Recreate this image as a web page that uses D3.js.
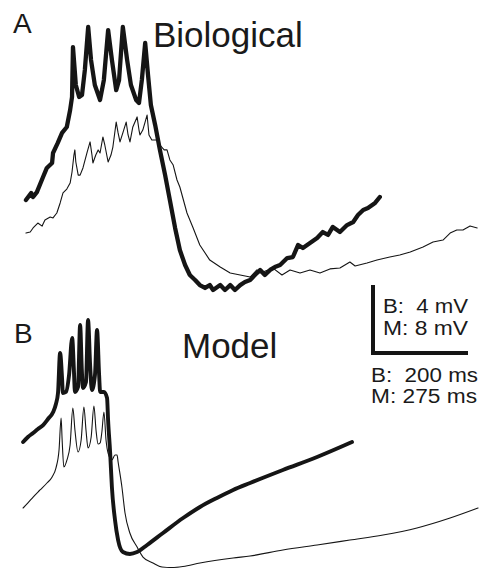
<!DOCTYPE html>
<html>
<head>
<meta charset="utf-8">
<script src="https://cdn.jsdelivr.net/npm/d3@7"></script>
<style>
  html, body { margin: 0; padding: 0; background: #fff; }
  svg { display: block; }
  text { font-family: "Liberation Sans", Arial, Helvetica, sans-serif; fill: #1a1a1a; white-space: pre; }
</style>
</head>
<body>
<svg id="chart" width="489" height="568"></svg>
<script>
// ---- Biological recordings (ms, mV relative to trough) ----
const bioBoldT = [2,13,17,25,38,46,57,59,69,78,88,95,99,101,107,114,120,126,133,139,147,158,166,175,183,192,198,206,215,223,234,240,246,253,259,265,274,284,295,305,316,326,337,347,358,368,379,389,396,411,421,432,442,453,463,474,484,495,505,516,526,537,552,564,575,585,600,615,627,638,648,663,678,691,701,712,722,737,747];
const bioBoldV = [5.29,5.71,5.47,5.76,6.65,7.18,7.47,8.06,8.65,9.24,9.59,10.59,11.35,14.29,12.06,11.35,11.47,12.94,15.47,13.53,12.06,11.18,12.35,15.29,13.53,11.76,12.35,15.47,13.53,12.06,11.18,11.0,12.35,14.53,12.65,10.88,9.71,8.24,6.76,5.29,3.65,2.35,1.47,0.88,0.59,0.29,0.12,0.29,0,0.29,0,0.29,0,0.29,0.47,0.59,0.88,1.18,0.88,1.18,1.35,1.47,1.88,1.94,2.65,2.47,2.76,3.06,3.41,3.24,3.71,3.41,3.82,4.0,4.41,4.71,4.82,5.12,5.47];

const bioThinT = [2,11,17,27,36,42,53,59,67,74,80,88,95,99,103,105,107,112,116,122,131,137,141,143,149,154,158,164,168,175,181,185,192,196,200,206,213,217,221,227,236,240,242,248,257,261,267,278,284,293,299,305,312,320,326,341,354,368,389,411,432,453,474,488,501,522,541,558,579,600,621,642,663,684,695,720,741,768,789,811,838,859,880,895,909,922,937,952];
const bioThinV = [3.35,3.41,3.65,3.94,3.76,4.12,4.29,4.24,4.53,5.12,5.71,5.94,6.29,6.94,7.94,8.24,7.53,6.76,6.76,7.18,8.12,8.71,7.94,7.47,7.94,8.24,8.06,9.0,8.53,7.53,7.94,8.41,9.88,9.24,8.71,9.24,9.88,9.12,8.71,9.59,10.18,9.41,9.12,9.41,10.29,9.12,8.82,8.82,8.53,8.24,8.24,7.65,7.35,6.47,6.06,4.53,3.65,2.65,1.76,1.35,1.0,0.88,0.76,1.18,1.06,1.29,0.88,1.18,1.0,1.18,1.0,1.24,1.29,1.65,1.41,1.59,1.76,1.94,2.06,2.24,2.53,2.82,2.94,3.35,3.53,3.53,3.76,3.65];

// ---- Model traces (ms, mV relative to trough) ----
const modelBoldT = [9,23,38,52,67,81,96,104,110,116,122,124,133,142,151,156,159,168,174,179,182,191,197,203,208,217,223,229,232,243,252,255,261,266,275,284,298,318,339,368,414,472,521,570,617,666,761,860,961];
const modelBoldV = [14.82,15.41,15.88,16.35,16.82,17.53,18.35,19.29,20.59,25.29,22.12,20.59,20.71,22.71,27.06,23.29,20.71,21.29,28.59,23.29,21.18,21.88,29.18,23.88,20.94,22.71,28.0,22.71,20.71,20.71,20.0,17.41,13.53,9.53,5.65,3.29,1.88,1.65,1.88,2.71,4.12,5.88,7.18,8.24,9.18,10.0,11.53,13.06,14.82];

const modelThinT = [9,23,38,58,78,93,104,113,119,122,127,136,145,153,159,168,177,185,191,197,206,214,220,226,232,237,243,249,255,266,275,281,284,295,304,318,339,356,385,411,440,472,521,617,666,761,860,955,1051,1149,1245,1326];
const modelThinV = [7.06,7.65,8.35,9.18,10.0,10.71,11.76,13.88,17.65,15.06,11.88,12.71,14.47,18.82,16.24,13.65,15.06,18.94,16.24,14.12,15.41,19.06,16.24,14.59,14.71,16.0,18.35,15.06,13.53,12.71,13.29,13.29,12.47,9.53,6.47,4.12,2.47,1.29,0.59,0.12,0.06,0.18,0.59,1.18,1.41,2.12,2.71,3.29,3.88,4.71,5.88,7.06];

// ---- Text ----
const panelLabels = ["A", "B"];
const panelTitles = ["Biological", "Model"];
const scaleLabels = ["B:  4 mV", "M: 8 mV", "B:  200 ms", "M: 275 ms"];
const scaleBarBio = { ms: 200, mV: 4 };

const svg = d3.select("#chart");
const ink = "#151515";

// Biological scales: 200 ms and 4 mV share one scale bar with the model's 275 ms / 8 mV
const xB = d3.scaleLinear().domain([0, 960]).range([25, 25 + 960 * 95 / 200]);
const yB = d3.scaleLinear().domain([0, 17]).range([290, 290 - 17 * 68 / 4]);
const xM = d3.scaleLinear().domain([0, 1330]).range([20, 20 + 1330 * 95 / 275]);
const yM = d3.scaleLinear().domain([0, 30]).range([568, 568 - 30 * 68 / 8]);

function trace(T, V, xs, ys, width, curve) {
  const pts = T.map((t, i) => [t, V[i]]);
  const line = d3.line().x(d => xs(d[0])).y(d => ys(d[1])).curve(curve);
  svg.append("path")
    .attr("d", line(pts))
    .attr("fill", "none")
    .attr("stroke", ink)
    .attr("stroke-width", width)
    .attr("stroke-linejoin", "round")
    .attr("stroke-linecap", "round");
}

// Panel A: biological recordings
trace(bioThinT, bioThinV, xB, yB, 1.1, d3.curveLinear);
trace(bioBoldT, bioBoldV, xB, yB, 4.3, d3.curveLinear);

// Panel B: model
trace(modelThinT, modelThinV, xM, yM, 1.1, d3.curveMonotoneX);
trace(modelBoldT, modelBoldV, xM, yM, 3.9, d3.curveMonotoneX);

// Panel letters and titles
svg.append("text").attr("x", 13).attr("y", 33).attr("font-size", 28).text(panelLabels[0]);
svg.append("text").attr("x", 14).attr("y", 343).attr("font-size", 28).text(panelLabels[1]);
svg.append("text").attr("x", 153).attr("y", 47).attr("font-size", 35).text(panelTitles[0]);
svg.append("text").attr("x", 182).attr("y", 358).attr("font-size", 35).text(panelTitles[1]);

// Scale bar
const sbX = 373, sbY = 353;
const sbH = yB(0) - yB(scaleBarBio.mV);
const sbW = xB(scaleBarBio.ms) - xB(0);
svg.append("path")
  .attr("d", `M${sbX},${sbY - sbH}V${sbY}H${sbX + sbW}`)
  .attr("fill", "none")
  .attr("stroke", ink)
  .attr("stroke-width", 4)
  .attr("stroke-linejoin", "miter");

const sbText = [
  { x: 383, y: 313, w: 85 },
  { x: 383, y: 335, w: 85 },
  { x: 371, y: 382, w: 107 },
  { x: 371, y: 403, w: 106 }
];
sbText.forEach((p, i) => {
  svg.append("text")
    .attr("x", p.x).attr("y", p.y)
    .attr("font-size", 19.5)
    .attr("textLength", p.w)
    .attr("lengthAdjust", "spacingAndGlyphs")
    .text(scaleLabels[i]);
});
</script>
</body>
</html>
